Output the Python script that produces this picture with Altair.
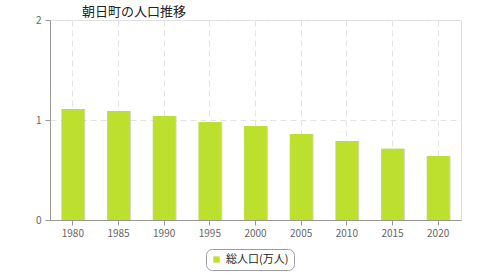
import altair as alt
import pandas as pd

years = ["1980", "1985", "1990", "1995", "2000", "2005", "2010", "2015", "2020"]
population = [1.11, 1.09, 1.04, 0.98, 0.94, 0.86, 0.79, 0.713, 0.64]
series = ["総人口(万人)"] * len(years)
title_text = "朝日町の人口推移"
y_ticks = [0, 1, 2]

df = pd.DataFrame({"year": years, "pop": population, "series": series})

FONT = "Noto Sans CJK JP"
bar_color = "#bde02f"

x_enc = alt.X("year:N", sort=years, title=None,
              scale=alt.Scale(paddingInner=0.5, paddingOuter=0.25),
              axis=alt.Axis(labelAngle=0, bandPosition=0.5, grid=True,
                            gridDash=[6, 4], gridColor="#e3e3e3",
                            domainColor="#999999", tickColor="#999999",
                            tickSize=5, labelColor="#666666", labelFontSize=10,
                            labelFont=FONT, labelPadding=3))

y_enc = alt.Y("pop:Q", title=None,
              scale=alt.Scale(domain=[0, 2], nice=False),
              axis=alt.Axis(values=y_ticks, tickCount=3, grid=True,
                            labelExpr="format(datum.value, '.0f')",
                            gridDash=[6, 4], gridColor="#e3e3e3",
                            domainColor="#999999", tickColor="#999999",
                            tickSize=5, labelColor="#666666", labelFontSize=10,
                            labelFont=FONT, labelPadding=4, labelOverlap=False))

shadow = alt.Chart(df).mark_bar(color="#a0a0a0", opacity=0.45, xOffset=1).encode(
    x=x_enc, y=y_enc)

bars = alt.Chart(df).mark_bar().encode(
    x=x_enc, y=y_enc,
    color=alt.Color("series:N", scale=alt.Scale(range=[bar_color]),
                    legend=alt.Legend(title=None, orient="none",
                                      legendX=156, legendY=229,
                                      symbolType="square", symbolSize=40,
                                      symbolStrokeWidth=0,
                                      labelFont=FONT, labelFontSize=11,
                                      labelColor="#222222",
                                      fillColor="#ffffff",
                                      strokeColor="#9a9aa8",
                                      cornerRadius=6, padding=5)))

chart = alt.layer(shadow, bars).properties(
    width=411, height=200,
    autosize="none",
    padding={"left": 50, "top": 20, "right": 19, "bottom": 60},
    title=alt.TitleParams(title_text, anchor="start", frame="group", dx=32,
                          offset=0, dy=4,
                          font=FONT, fontSize=13, fontWeight="normal",
                          color="#222222"),
).configure_view(
    stroke="#dddddd",
    fill="#fafafa",
).configure(background="#ffffff")

chart.save("out.html", embed_options={"renderer": "svg", "actions": False})
